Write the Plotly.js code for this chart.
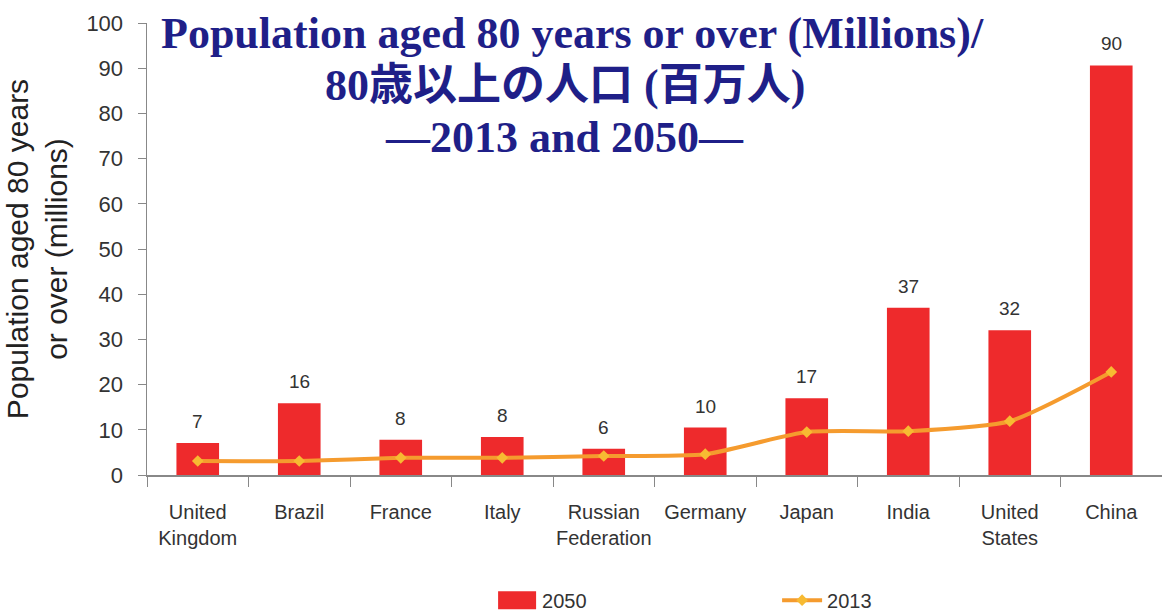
<!DOCTYPE html>
<html><head><meta charset="utf-8">
<script src="https://cdn.plot.ly/plotly-3.0.1.min.js"></script>
<style>body{margin:0;background:#fff}#c{width:1162px;height:611px}</style>
</head><body><div id="c"></div>
<script>
const categories = ["United<br>Kingdom","Brazil","France","Italy","Russian<br>Federation","Germany","Japan","India","United<br>States","China"];
const values2050 = [7.1, 15.9, 7.8, 8.4, 5.8, 10.5, 17.0, 37.0, 32.0, 90.6];
const labels2050 = ["7","16","8","8","6","10","17","37","32","90"];
const values2013 = [3.1, 3.1, 3.8, 3.8, 4.2, 4.6, 9.5, 9.7, 11.9, 22.8];
const titleLines = ["Population aged 80 years or over (Millions)/", "80歳以上の人口 (百万人)", "—2013 and 2050—"];

const bar = {type:'bar', x:categories, y:values2050, name:'2050', width:0.42,
  marker:{color:'#EE2A2C'}, hoverinfo:'none'};
const line = {type:'scatter', mode:'lines+markers', x:categories, y:values2013, name:'2013',
  line:{color:'#F59B2E', width:4, shape:'spline', smoothing:0.6},
  marker:{symbol:'diamond', size:9, color:'#F7BA32', line:{width:0}}};

const annotations = categories.map((c,i)=>({x:c, y:values2050[i], xref:'x', yref:'y',
  text:labels2050[i], showarrow:false, yanchor:'bottom', yshift:9,
  font:{family:'Liberation Sans, Arial, sans-serif', size:19, color:'#333'}}));
const titleX = [0.4192, 0.4123, 0.4118];
const titleY = [0.9757, 0.8628, 0.7456];
titleLines.forEach((t,i)=>annotations.push({xref:'paper', yref:'paper', x:titleX[i], y:titleY[i],
  xanchor:'center', yanchor:'middle', showarrow:false, text:'<b>'+t+'</b>',
  font:{family:'Liberation Serif, Times New Roman, Noto Sans CJK JP, serif', size:44, color:'#1F1F88'}}));

const layout = {
  width:1162, height:611,
  margin:{l:147, r:0, t:23, b:136, autoexpand:false},
  paper_bgcolor:'#fff', plot_bgcolor:'#fff',
  xaxis:{type:'category', showline:true, linecolor:'#888', linewidth:1.5, ticks:'outside', tickson:'boundaries',
    ticklen:10, tickcolor:'#888', showgrid:false, ticklabelstandoff:18, tickangle:0, automargin:false,
    tickfont:{family:'Liberation Sans, Arial, sans-serif', size:20, color:'#333'}, range:[-0.5,9.5]},
  yaxis:{range:[0,100], dtick:10, showline:true, linecolor:'#888', linewidth:1.5, ticks:'outside', ticklen:8,
    tickcolor:'#888', showgrid:false, zeroline:false, ticklabelstandoff:10, automargin:false,
    tickfont:{family:'Liberation Sans, Arial, sans-serif', size:22, color:'#333'},
    title:{text:'Population aged 80 years<br>or over (millions)', standoff:10,
      font:{family:'Liberation Sans, Arial, sans-serif', size:30, color:'#222'}}},
  legend:{orientation:'h', x:0.34, xanchor:'left', y:-0.277, yanchor:'middle', entrywidth:230, itemwidth:40,
    font:{family:'Liberation Sans, Arial, sans-serif', size:20, color:'#333'}},
  annotations:annotations,
  showlegend:true
};
Plotly.newPlot('c',[bar,line],layout,{displayModeBar:false, staticPlot:true}).then(gd=>{
  gd.querySelectorAll('.legend .traces').forEach((t,i)=>{
    if(i===0){ t.querySelectorAll('.legendpoints path').forEach(p=>p.setAttribute('d','M19,9H-19V-9H19Z')); }
  });
});
</script></body></html>
